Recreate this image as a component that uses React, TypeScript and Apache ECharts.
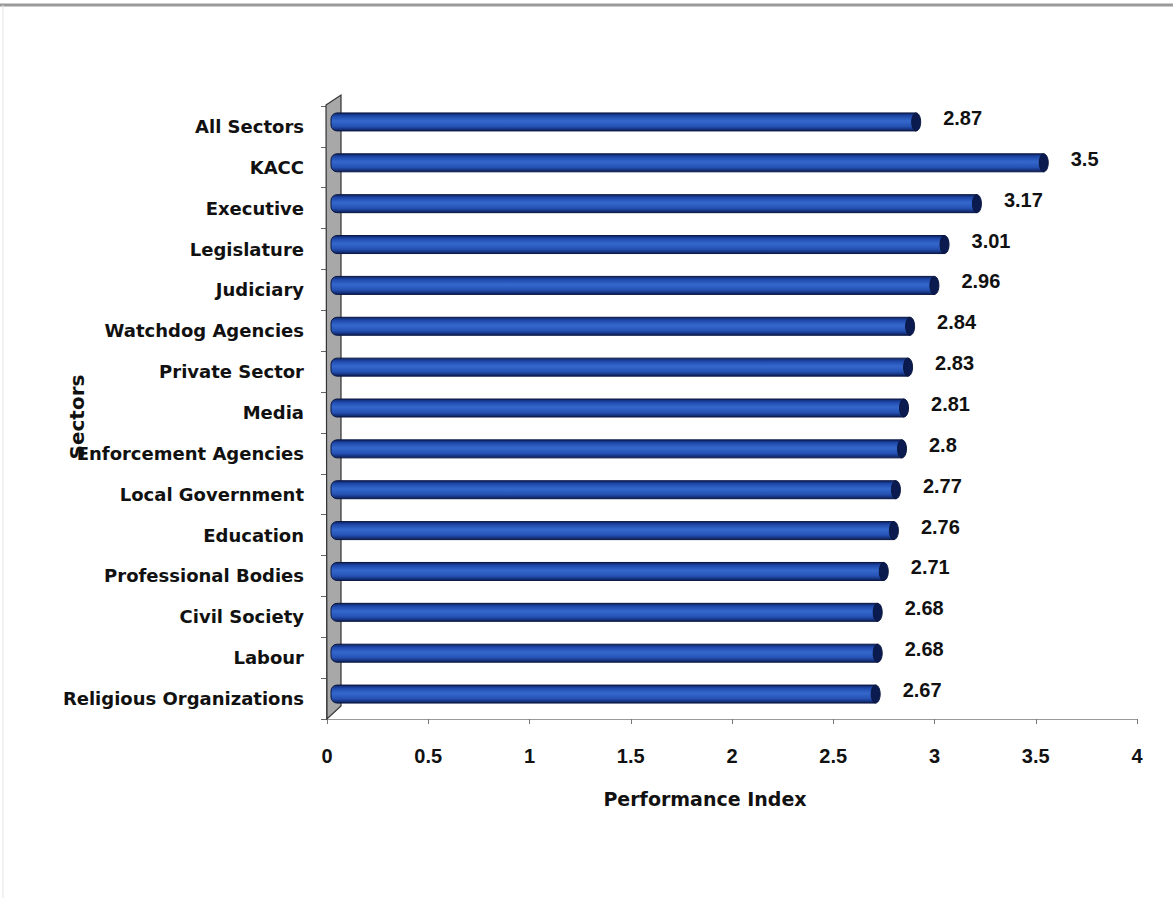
import React, { useEffect, useRef } from "react";
import * as echarts from "echarts";

const categories = [
  "All Sectors",
  "KACC",
  "Executive",
  "Legislature",
  "Judiciary",
  "Watchdog Agencies",
  "Private Sector",
  "Media",
  "Enforcement Agencies",
  "Local Government",
  "Education",
  "Professional Bodies",
  "Civil Society",
  "Labour",
  "Religious Organizations",
];
const values = [2.87, 3.5, 3.17, 3.01, 2.96, 2.84, 2.83, 2.81, 2.8, 2.77, 2.76, 2.71, 2.68, 2.68, 2.67];
const xTicks = [0, 0.5, 1, 1.5, 2, 2.5, 3, 3.5, 4];
const yAxisTitle = "Sectors";

const FONT = "'Liberation Sans', Arial, sans-serif";
const WIDE = "'DejaVu Sans', sans-serif";

export default function App() {
  const ref = useRef<HTMLDivElement>(null);
  useEffect(() => {
    if (!ref.current) return;
    const chart = echarts.init(ref.current, undefined, { renderer: "svg" });
    const gridLeft = 327;
    const gridTop = 106;
    const gridBottom = 179;
    const gridRight = 36;
    const plotBottom = 898 - gridBottom;
    chart.setOption({
      animation: false,
      backgroundColor: "#ffffff",
      grid: { left: gridLeft, right: gridRight, top: gridTop, bottom: gridBottom, containLabel: false },
      xAxis: {
        type: "value",
        min: xTicks[0],
        max: xTicks[xTicks.length - 1],
        interval: 0.5,
        name: "Performance Index",
        nameLocation: "middle",
        nameGap: 70,
        nameTextStyle: { fontFamily: WIDE, fontWeight: "bold", fontSize: 19, color: "#111", padding: [0, 54, 0, 0] },
        axisLine: { show: true, lineStyle: { color: "#9a9a9a", width: 1 } },
        axisTick: { show: true, length: 5, lineStyle: { color: "#777" } },
        splitLine: { show: false },
        axisLabel: {
          margin: 27,
          fontFamily: FONT,
          fontWeight: "bold",
          fontSize: 20,
          color: "#111",
          formatter: (v: number) => String(v),
        },
      },
      yAxis: {
        type: "category",
        data: categories,
        inverse: true,
        axisLine: { show: true, lineStyle: { color: "#333", width: 1.5 } },
        axisTick: { show: true, length: 6, alignWithLabel: false, lineStyle: { color: "#666" } },
        axisLabel: { margin: 23, fontFamily: WIDE, fontWeight: "bold", fontSize: 18, color: "#111" },
        splitLine: { show: false },
      },
      graphic: [
        { type: "line", shape: { x1: 0, y1: 5, x2: 1173, y2: 5 }, style: { stroke: "#9a9a9a", lineWidth: 3 }, silent: true },
        { type: "line", shape: { x1: 3, y1: 5, x2: 3, y2: 898 }, style: { stroke: "#e4e4e4", lineWidth: 1 }, silent: true },
        {
          type: "polygon",
          shape: { points: [[326, gridTop - 1], [341, gridTop - 11], [341, plotBottom - 13], [327, plotBottom]] },
          style: { fill: "#a8a8a8", stroke: "#333", lineWidth: 1.2 },
          z: 1,
          silent: true,
        },
        {
          type: "text",
          x: 77,
          y: 417,
          rotation: Math.PI / 2,
          z: 10,
          style: {
            text: yAxisTitle,
            fontFamily: WIDE,
            fontWeight: "bold",
            fontSize: 20,
            fill: "#111",
            align: "center",
            verticalAlign: "middle",
          },
          silent: true,
        },
      ],
      series: [
        {
          type: "custom",
          encode: { x: 0, y: 1 },
          data: values.map((v, i) => [v, i]),
          z: 5,
          renderItem: (params: any, api: any) => {
            const v = api.value(0);
            const idx = api.value(1);
            const p0 = api.coord([0, idx]);
            const p1 = api.coord([v, idx]);
            const h = 18;
            const cy = p0[1] - 4.5;
            const xL = p0[0] + 4;
            const xR = p1[0] + 8;
            return {
              type: "group",
              children: [
                {
                  type: "rect",
                  shape: { x: xL, y: cy - h / 2, width: xR - xL, height: h, r: [6, 0, 0, 6] },
                  style: {
                    fill: new echarts.graphic.LinearGradient(0, 0, 0, 1, [
                      { offset: 0, color: "#0d2466" },
                      { offset: 0.18, color: "#1f4aac" },
                      { offset: 0.45, color: "#3568cc" },
                      { offset: 0.75, color: "#2552b4" },
                      { offset: 1, color: "#0c1f5c" },
                    ]),
                    stroke: "#0a1640",
                    lineWidth: 1,
                  },
                },
                {
                  type: "ellipse",
                  shape: { cx: xR, cy: cy, rx: 4.5, ry: h / 2 },
                  style: { fill: "#0b1b50", stroke: "#0a1640", lineWidth: 1 },
                },
                {
                  type: "text",
                  x: xR + 27,
                  y: cy - 4,
                  style: {
                    text: String(v),
                    fontFamily: FONT,
                    fontWeight: "bold",
                    fontSize: 20,
                    fill: "#111",
                    align: "left",
                    verticalAlign: "middle",
                  },
                },
              ],
            };
          },
        },
      ],
    });
    return () => chart.dispose();
  }, []);
  return <div ref={ref} style={{ position: "absolute", left: 0, top: 0, width: 1173, height: 898 }} />;
}
